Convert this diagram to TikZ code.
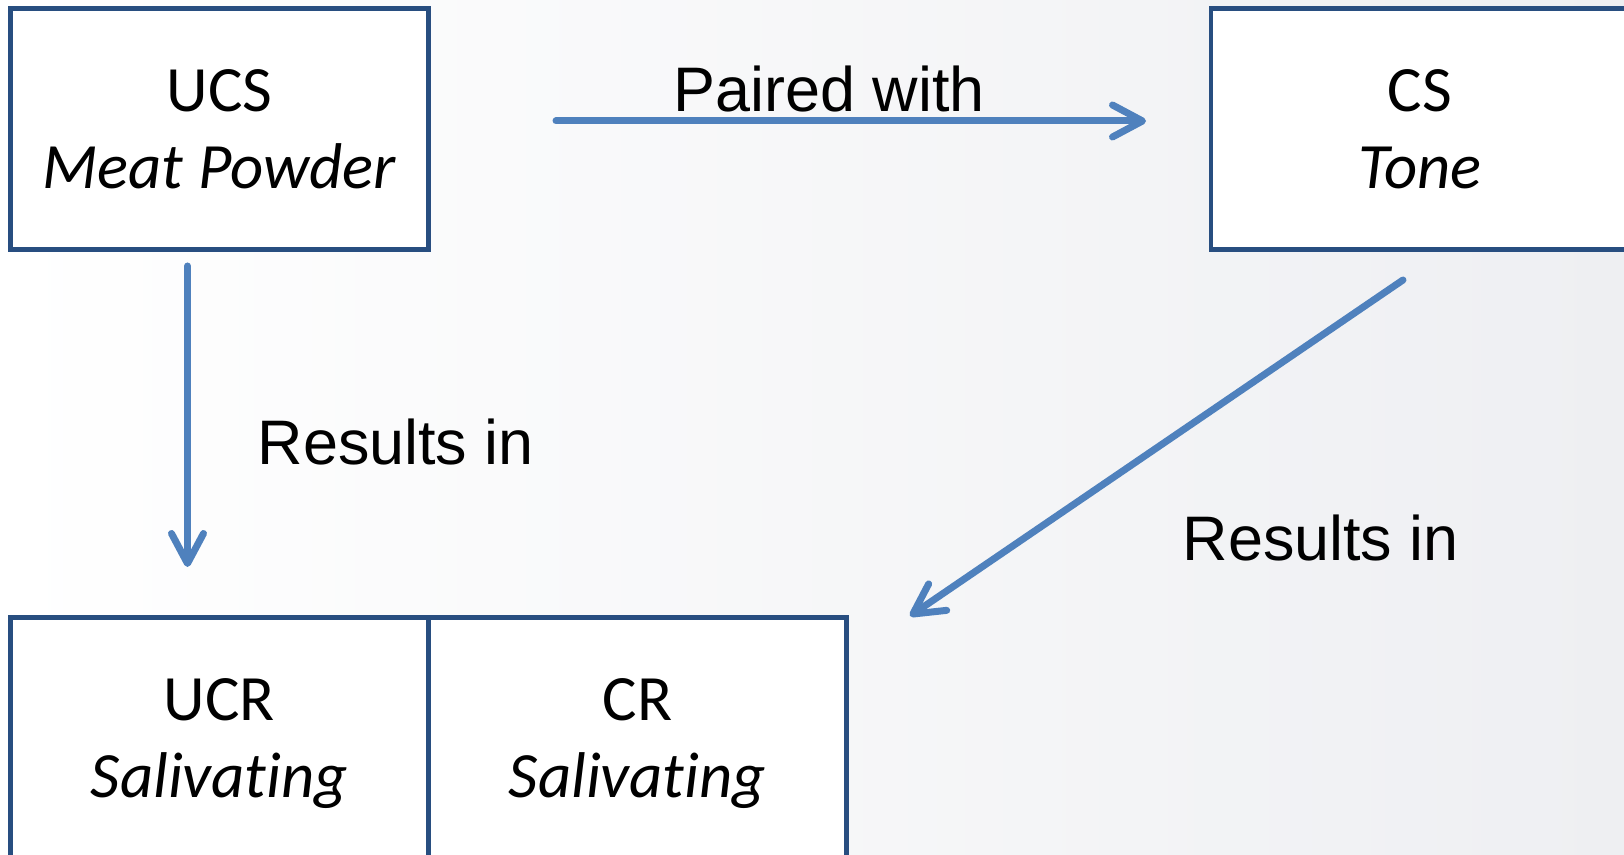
\documentclass[tikz,border=0pt]{standalone}
\usepackage{fontspec}
\setmainfont{Carlito}[Ligatures=NoCommon]
\newfontfamily\arialfont{Liberation Sans}
\usetikzlibrary{calc}
\usetikzlibrary{arrows.meta}
\usetikzlibrary{positioning}
\definecolor{boxblue}{RGB}{40,78,128}
\definecolor{arrowblue}{RGB}{79,129,189}
\definecolor{bggrey}{RGB}{238,239,242}

\begin{document}
\begin{tikzpicture}[
  stim/.style={draw=boxblue,line width=0.045cm,fill=white,minimum width=4.18cm,
    minimum height=2.41cm,inner sep=0pt,outer sep=0pt,align=center,text depth=0pt,
    font=\fontsize{18.4}{21.8}\selectfont},
  flow/.style={draw=arrowblue,line width=0.07cm,line cap=round,
    -{Straight Barb[round,length=0.3cm,width=0.32cm]}},
  lbl/.style={font=\arialfont\fontsize{17.9}{20}\selectfont,anchor=base west,inner sep=0pt}]
\useasboundingbox (0,0) rectangle (16.24,-8.55);
\shade[left color=white,right color=bggrey] (0,0) rectangle (16.24,-8.55);

\node[stim] (ucs) at (2.194,-1.29) {UCS\\\textit{Meat Powder}};
\node[stim] (cs) at (14.20,-1.29) {CS\\\textit{Tone}};
\node[stim] (ucr) at (2.194,-7.38) {UCR\\\textit{Salivating}};
\node[stim,right=0pt of ucr] (cr) {CR\\\textit{Salivating}};

\coordinate (pw0) at (5.56,-1.21);
\coordinate (pw1) at (11.46,-1.21);
\coordinate (ri0) at (1.875,-2.66);
\coordinate (ri1) at (1.875,-5.67);
\coordinate (rj0) at (14.03,-2.80);
\coordinate (rj1) at (9.10,-6.16);

\node[lbl] (paired) at (6.73,-1.12) {Paired with};
\node[lbl] (resA) at (2.57,-4.65) {Results in};
\node[lbl] (resB) at (11.82,-5.61) {Results in};

\draw[flow] (pw0) -- (pw1);
\draw[flow] (ri0) -- (ri1);
\draw[flow] (rj0) -- (rj1);
\end{tikzpicture}
\end{document}
